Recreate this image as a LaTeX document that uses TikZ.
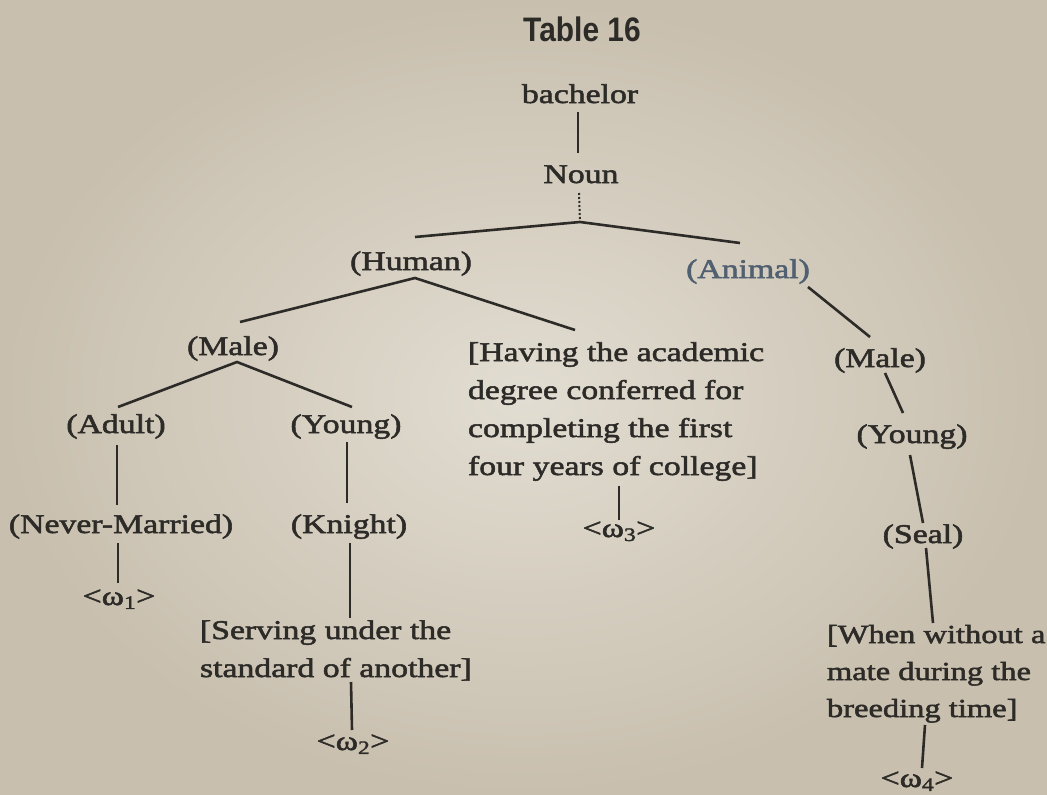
\documentclass[tikz,border=0pt]{standalone}
\usepackage{fontspec}
\setmainfont{Liberation Serif}[FakeStretch=1.25,FakeBold=2]
\newfontfamily\titlefont{Liberation Sans}[FakeStretch=0.88]
\usetikzlibrary{calc}
\definecolor{ink}{RGB}{45,43,40}
\definecolor{inkblue}{RGB}{80,96,112}
\definecolor{bgdark}{RGB}{200,191,174}
\definecolor{bglight}{RGB}{226,221,210}
\begin{document}
\begin{tikzpicture}[x=1pt,y=-1pt,
  every node/.style={inner sep=0pt,outer sep=0pt,text=ink,font=\fontsize{27}{38}\selectfont},
  lbl/.style={anchor=base},
  blk/.style={anchor=base west,align=left},
  ln/.style={draw=ink,line width=2.6pt},
  dln/.style={draw=ink,line width=2pt,dotted}]
\useasboundingbox (0,0) rectangle (1047,795);
\shade[inner color=bglight,outer color=bgdark] (0,0) rectangle (1047,795);

\node[lbl] (title) at (582,41) {\titlefont\fontsize{34}{40}\selectfont\bfseries Table 16};
\node[lbl] (bachelor) at (580,103) {bachelor};
\node[lbl] (noun) at (581,183) {Noun};
\node[lbl] (human) at (411,270) {(Human)};
\node[lbl,text=inkblue] (animal) at (748,278) {(Animal)};
\node[lbl] (maleL) at (233,355) {(Male)};
% base of a multi-line node = baseline of its last line
\node[blk] (having) at (468,475) {[Having the academic\\degree conferred for\\completing the first\\four years of college]};
\node[lbl] (maleR) at (880,367) {(Male)};
\node[lbl] (adult) at (116,433) {(Adult)};
\node[lbl] (youngL) at (346,433) {(Young)};
\node[lbl] (youngR) at (912,443) {(Young)};
\node[lbl] (nm) at (121,533) {(Never-Married)};
\node[lbl] (knight) at (349,533) {(Knight)};
\node[lbl] (seal) at (923,543) {(Seal)};
\node[lbl] (w1) at (119,605) {<ω\textsubscript{1}>};
\node[lbl] (w3) at (619,537) {<ω\textsubscript{3}>};
\node[blk] (serving) at (200,677) {[Serving under the\\standard of another]};
\node[blk,font=\fontsize{26}{37}\selectfont] (when) at (827,717) {[When without a\\mate during the\\breeding time]};
\node[lbl] (w2) at (353,750) {<ω\textsubscript{2}>};
\node[lbl] (w4) at (917,787) {<ω\textsubscript{4}>};

\coordinate (nounJ) at (580,222);
\coordinate (humJ) at (415,278);
\coordinate (maleJ) at (237,362);

\draw[ln] ([xshift=-2pt,yshift=-9pt]bachelor.base) -- ([xshift=-3pt,yshift=30pt]noun.base);
\draw[dln] ([xshift=-2pt,yshift=-10pt]noun.base) -- (nounJ);
\draw[ln] ([xshift=4pt,yshift=33pt]human.base) -- (nounJ) -- ([xshift=-8pt,yshift=35pt]animal.base);
\draw[ln] ([xshift=7pt,yshift=33pt]maleL.base) -- (humJ) -- ([xshift=107pt,yshift=145pt]having.base west);
\draw[ln] ([xshift=2pt,yshift=26pt]adult.base) -- (maleJ) -- ([xshift=6pt,yshift=26pt]youngL.base);
\draw[ln] ([xshift=1pt,yshift=-12pt]adult.base) -- ([xshift=1pt,yshift=28pt]adult.base |- nm.base);
\draw[ln] ([xshift=1pt,yshift=-9pt]youngL.base) -- ([xshift=1pt,yshift=30pt]youngL.base |- knight.base);
\draw[ln] ([xshift=-3pt,yshift=-10pt]nm.base) -- ([xshift=-3pt,yshift=22pt]nm.base |- w1.base);
\draw[ln] ([xshift=1pt,yshift=-10pt]knight.base) -- ([xshift=150pt,yshift=59pt]serving.base west);
\draw[ln] ([xshift=151pt,yshift=-5pt]serving.base west) -- ([xshift=-1pt,yshift=20pt]w2.base);
\draw[ln] ([yshift=-5pt]having.south -| w3.base) -- ([yshift=17pt]w3.base);
\draw[ln] ([xshift=60pt,yshift=-9pt]animal.base) -- ([xshift=-10pt,yshift=30pt]maleR.base);
\draw[ln] ([xshift=5pt,yshift=-6pt]maleR.base) -- ([xshift=-9pt,yshift=30pt]youngR.base);
\draw[ln] ([xshift=-2pt,yshift=-12pt]youngR.base) -- ([xshift=0pt,yshift=20pt]seal.base);
\draw[ln] ([xshift=3pt,yshift=-5pt]seal.base) -- ([xshift=106pt,yshift=94pt]when.base west);
\draw[ln] ([xshift=98pt,yshift=-8pt]when.base west) -- ([xshift=5pt,yshift=19pt]w4.base);
\end{tikzpicture}
\end{document}
